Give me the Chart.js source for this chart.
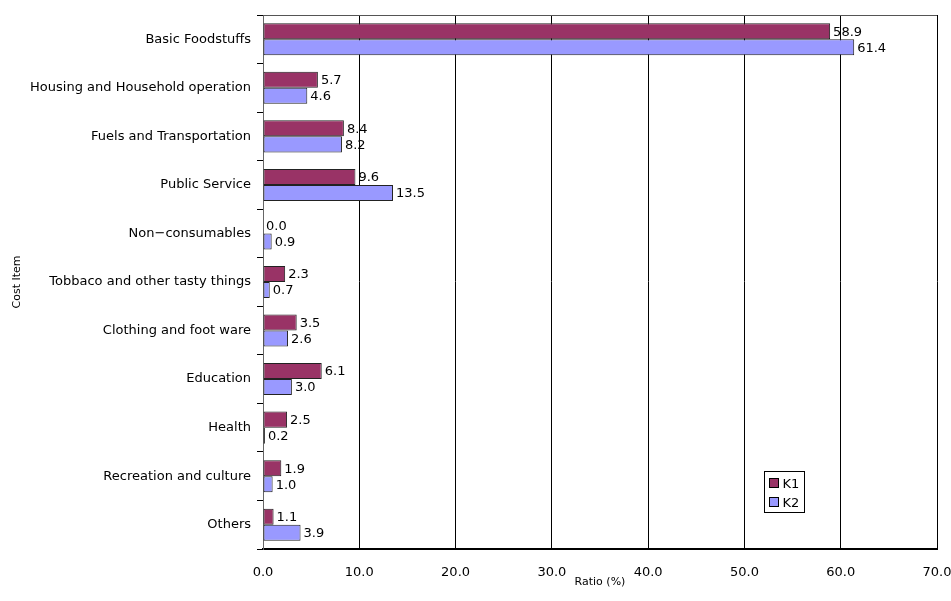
<!DOCTYPE html>
<html lang="en">
<head>
  <meta charset="UTF-8">
  <title>Cost Item Ratio</title>
  <script src="https://cdn.jsdelivr.net/npm/chart.js"></script>
  <style>
    body {
      margin: 0;
      background: #ffffff;
    }
    #wrap {
      width: 951px;
      height: 601px;
    }
  </style>
</head>
<body>
  <div id="wrap">
    <canvas id="costChart" width="951" height="601"></canvas>
  </div>
  <script>
    const categories = [
      'Basic Foodstuffs',
      'Housing and Household operation',
      'Fuels and Transportation',
      'Public Service',
      'Non\u2212consumables',
      'Tobbaco and other tasty things',
      'Clothing and foot ware',
      'Education',
      'Health',
      'Recreation and culture',
      'Others'
    ];
    const k1 = [58.9, 5.7, 8.4, 9.6, 0.0, 2.3, 3.5, 6.1, 2.5, 1.9, 1.1];
    const k2 = [61.4, 4.6, 8.2, 13.5, 0.9, 0.7, 2.6, 3.0, 0.2, 1.0, 3.9];
    const seriesNames = ['K1', 'K2'];

    const FONT = "'DejaVu Sans', sans-serif";
    Chart.defaults.font.family = FONT;
    Chart.defaults.font.size = 13;
    Chart.defaults.color = '#000';

    // value labels to the right of each bar
    const barLabels = {
      id: 'barLabels',
      afterDatasetsDraw(chart) {
        const ctx = chart.ctx;
        ctx.save();
        ctx.font = '13px ' + FONT;
        ctx.fillStyle = '#000';
        ctx.textAlign = 'left';
        ctx.textBaseline = 'middle';
        chart.data.datasets.forEach((ds, i) => {
          chart.getDatasetMeta(i).data.forEach((bar, j) => {
            ctx.fillText(ds.data[j].toFixed(1), bar.x + 3, bar.y + 1);
          });
        });
        ctx.restore();
      }
    };

    // top edge of the plot frame and the small legend box
    const frameAndLegend = {
      id: 'frameAndLegend',
      afterDraw(chart) {
        const ctx = chart.ctx;
        const a = chart.chartArea;
        ctx.save();
        ctx.strokeStyle = '#555';
        ctx.lineWidth = 1;
        ctx.beginPath();
        ctx.moveTo(a.left, a.top + 0.5);
        ctx.lineTo(a.right, a.top + 0.5);
        ctx.stroke();

        const bx = Math.round(a.right - 173) + 0.5, by = Math.round(a.bottom - 78) + 0.5;
        ctx.fillStyle = '#fff';
        ctx.fillRect(bx, by, 40, 41);
        ctx.strokeStyle = '#000';
        ctx.strokeRect(bx, by, 40, 41);
        ctx.font = '13px ' + FONT;
        ctx.textBaseline = 'middle';
        chart.data.datasets.forEach((ds, i) => {
          const y = by + 12 + i * 19;
          ctx.fillStyle = ds.backgroundColor;
          ctx.fillRect(bx + 5, y - 5, 9, 9);
          ctx.strokeRect(bx + 5, y - 5, 9, 9);
          ctx.fillStyle = '#000';
          ctx.fillText(ds.label, bx + 18, y + 1);
        });
        ctx.restore();
      }
    };

    new Chart(document.getElementById('costChart'), {
      type: 'bar',
      data: {
        labels: categories,
        datasets: [{
          label: seriesNames[0],
          data: k1,
          backgroundColor: '#993366',
          borderColor: '#222',
          borderWidth: 1,
          borderSkipped: false,
          categoryPercentage: 0.66,
          barPercentage: 1.0
        }, {
          label: seriesNames[1],
          data: k2,
          backgroundColor: '#9999ff',
          borderColor: '#222',
          borderWidth: 1,
          borderSkipped: false,
          categoryPercentage: 0.66,
          barPercentage: 1.0
        }]
      },
      options: {
        indexAxis: 'y',
        responsive: false,
        animation: false,
        layout: { padding: { top: 15, right: 14, left: 0, bottom: 0 } },
        plugins: {
          legend: { display: false },
          tooltip: { enabled: false }
        },
        scales: {
          x: {
            min: 0,
            max: 70,
            ticks: {
              stepSize: 10,
              padding: 16,
              maxRotation: 0,
              callback: v => v.toFixed(1)
            },
            grid: {
              color: '#000',
              drawTicks: false
            },
            border: { color: '#000', width: 2 },
            title: {
              display: true,
              text: 'Ratio (%)',
              font: { size: 11 },
              padding: { top: 2, bottom: 12 }
            },
            afterFit(scale) {
              scale.height = 52;
              scale.paddingRight = 0;
              scale.paddingLeft = 0;
            }
          },
          y: {
            ticks: { padding: 6 },
            grid: {
              offset: true,
              drawOnChartArea: false,
              tickLength: 6,
              color: '#000'
            },
            border: { color: '#666' },
            title: {
              display: true,
              text: 'Cost Item',
              font: { size: 11 },
              padding: { top: 11, bottom: 0 }
            },
            afterFit(scale) {
              scale.width = 263;
            }
          }
        }
      },
      plugins: [barLabels, frameAndLegend]
    });
  </script>
</body>
</html>
